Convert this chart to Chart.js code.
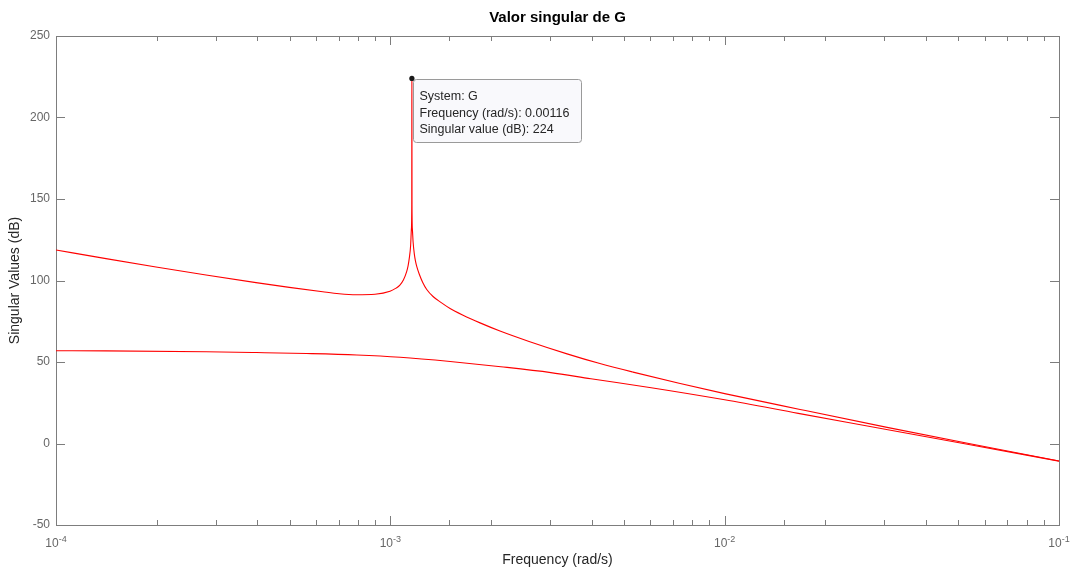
<!DOCTYPE html>
<html>
<head>
<meta charset="utf-8">
<title>Valor singular de G</title>
<script src="https://cdn.jsdelivr.net/npm/chart.js@4.4.1/dist/chart.umd.min.js"></script>
<style>
    body { margin: 0; background: #fff; }
</style>
</head>
<body>
<canvas id="sigmaChart" width="1075" height="570"></canvas>
<script>
// frequencies (rad/s) and singular values (dB)
let freqUpper = [1.00e-4, 1.411e-4, 1.991e-4, 2.810e-4, 3.965e-4, 4.987e-4, 6.278e-4, 7.03e-4, 7.9e-4,
    9.0e-4, 9.98e-4, 1.04e-3, 1.068e-3, 1.095e-3, 1.119e-3, 1.13e-3, 1.14e-3, 1.15e-3, 1.156e-3,
    1.159e-3, 1.16e-3, 1.161e-3, 1.164e-3, 1.17e-3, 1.18e-3, 1.19e-3, 1.20e-3, 1.22e-3, 1.25e-3,
    1.285e-3, 1.342e-3, 1.42e-3, 1.509e-3, 1.65e-3, 1.855e-3, 2.128e-3, 2.60e-3, 3.377e-3,
    4.209e-3, 5.321e-3, 7.306e-3, 1.0e-2, 1.681e-2, 3.06e-2, 5.42e-2, 1.0e-1];
let svUpper = [118.7, 113.4, 108.3, 103.4, 98.7, 95.8, 93.1, 91.9, 91.3,
    91.6, 93.4, 95.3, 97.2, 100.5, 105.5, 109.0, 114.0, 121.5, 131.5,
    146.5, 224, 146.5, 131.5, 123.5, 116.0, 111.6, 108.5, 104.0, 98.8,
    94.5, 90.2, 86.4, 82.8, 78.7, 74.0, 69.0, 62.6, 55.0,
    49.2, 43.8, 37.0, 30.6, 20.9, 9.9, -0.2, -10.7];

let freqLower = [1.00e-4, 1.41e-4, 2.81e-4, 3.98e-4, 5.62e-4, 7.94e-4, 1.07e-3, 1.51e-3, 2.14e-3,
    3.02e-3, 3.98e-3, 6.03e-3, 1.0e-2, 1.66e-2, 3.02e-2, 5.37e-2, 1.0e-1];
let svLower = [56.9, 56.8, 56.3, 55.8, 55.2, 54.3, 52.9, 50.3, 47.1,
    43.5, 39.7, 34.2, 26.8, 18.5, 8.75, -0.65, -10.8];

let yTicks = [-50, 0, 50, 100, 150, 200, 250];
let xDecades = [1e-4, 1e-3, 1e-2, 1e-1];

let datatipLines = ["System: G", "Frequency (rad/s): 0.00116", "Singular value (dB): 224"];

const FONT = '"Liberation Sans", Arial, Helvetica, sans-serif';
const AXIS_GRAY = "#7d7d7d";

function toPoints(xs, ys) {
    return xs.map((x, i) => ({ x: x, y: ys[i] }));
}

const matlabAxes = {
    id: "matlabAxes",
    beforeDatasetsDraw(chart) {
        const ctx = chart.ctx;
        const a = chart.chartArea;
        const xs = chart.scales.x;
        const ys = chart.scales.y;

        ctx.save();
        ctx.strokeStyle = AXIS_GRAY;
        ctx.lineWidth = 1;
        ctx.strokeRect(Math.round(a.left) + 0.5, Math.round(a.top) + 0.5,
            Math.round(a.right - a.left), Math.round(a.bottom - a.top));

        // y ticks, inward on both sides
        ctx.beginPath();
        ys.ticks.forEach(t => {
            let py = Math.round(ys.getPixelForValue(t.value)) + 0.5;
            ctx.moveTo(a.left, py); ctx.lineTo(a.left + 9, py);
            ctx.moveTo(a.right, py); ctx.lineTo(a.right - 9, py);
        });
        // x ticks (log), major and minor, inward bottom and top
        xs.ticks.forEach(t => {
            let lg = Math.log10(t.value);
            let major = Math.abs(lg - Math.round(lg)) < 1e-6;
            let len = major ? 9 : 5;
            let px = Math.round(xs.getPixelForValue(t.value)) + 0.5;
            ctx.moveTo(px, a.bottom); ctx.lineTo(px, a.bottom - len);
            ctx.moveTo(px, a.top); ctx.lineTo(px, a.top + len);
        });
        ctx.stroke();

        // x tick labels 10^n
        ctx.fillStyle = "#666666";
        ctx.textBaseline = "alphabetic";
        ctx.textAlign = "left";
        xDecades.forEach(v => {
            let px = xs.getPixelForValue(v);
            let exp = String(Math.round(Math.log10(v)));
            ctx.font = "12px " + FONT;
            let wBase = ctx.measureText("10").width;
            ctx.font = "9px " + FONT;
            let wExp = ctx.measureText(exp).width;
            let x0 = px - (wBase + wExp) / 2;
            ctx.font = "12px " + FONT;
            ctx.fillText("10", x0, 547);
            ctx.font = "9px " + FONT;
            ctx.fillText(exp, x0 + wBase, 542);
        });

        // title
        ctx.fillStyle = "#000000";
        ctx.font = "bold 15px " + FONT;
        ctx.textAlign = "center";
        ctx.textBaseline = "middle";
        ctx.fillText("Valor singular de G", (a.left + a.right) / 2, 18);
        ctx.restore();
    },
    afterDatasetsDraw(chart) {
        const ctx = chart.ctx;
        const xs = chart.scales.x;
        const ys = chart.scales.y;

        let iMax = svUpper.indexOf(Math.max(...svUpper));
        let px = xs.getPixelForValue(freqUpper[iMax]);
        let py = ys.getPixelForValue(svUpper[iMax]);

        let bx = Math.round(px) + 1.5, by = Math.round(py) + 1.5;
        let bw = 168, bh = 63;

        ctx.save();
        ctx.beginPath();
        ctx.roundRect(bx, by, bw, bh, 3);
        ctx.fillStyle = "#f9f9fc";
        ctx.fill();
        ctx.strokeStyle = "#9a9a9a";
        ctx.lineWidth = 1;
        ctx.stroke();

        ctx.fillStyle = "#262626";
        ctx.font = "12.5px " + FONT;
        ctx.textAlign = "left";
        ctx.textBaseline = "middle";
        datatipLines.forEach((line, i) => {
            ctx.fillText(line, bx + 6, by + 17 + i * 16.7);
        });

        ctx.beginPath();
        ctx.arc(px, py, 2.6, 0, Math.PI * 2);
        ctx.fillStyle = "#1a1a1a";
        ctx.fill();
        ctx.restore();
    }
};

new Chart(document.getElementById("sigmaChart"), {
    type: "line",
    data: {
        datasets: [{
            label: "G (upper)",
            data: toPoints(freqUpper, svUpper),
            borderColor: "#ff0000",
            borderWidth: 1.1,
            pointRadius: 0,
            cubicInterpolationMode: "monotone"
        }, {
            label: "G (lower)",
            data: toPoints(freqLower, svLower),
            borderColor: "#ff0000",
            borderWidth: 1.1,
            pointRadius: 0,
            cubicInterpolationMode: "monotone"
        }]
    },
    options: {
        responsive: false,
        animation: false,
        devicePixelRatio: 1,
        layout: { padding: { left: 0, right: 16, top: 36, bottom: 0 } },
        plugins: {
            legend: { display: false },
            tooltip: { enabled: false },
            title: { display: false }
        },
        scales: {
            x: {
                type: "logarithmic",
                min: 1e-4,
                max: 1e-1,
                grid: { display: false, drawTicks: false },
                border: { display: false },
                ticks: { display: false },
                title: {
                    display: true,
                    text: "Frequency (rad/s)",
                    color: "#262626",
                    font: { family: FONT, size: 14 },
                    padding: { top: 0, bottom: 1 }
                },
                afterFit(scale) { scale.height = 45; }
            },
            y: {
                type: "linear",
                min: -50,
                max: 250,
                afterBuildTicks(scale) {
                    scale.ticks = yTicks.map(v => ({ value: v }));
                },
                grid: { display: false, drawTicks: false },
                border: { display: false },
                ticks: {
                    color: "#666666",
                    padding: 6,
                    font: { family: FONT, size: 12 }
                },
                title: {
                    display: true,
                    text: "Singular Values (dB)",
                    color: "#262626",
                    font: { family: FONT, size: 14 },
                    padding: { top: 7, bottom: 0 }
                },
                afterFit(scale) { scale.width = 56; }
            }
        }
    },
    plugins: [matlabAxes]
});
</script>
</body>
</html>
